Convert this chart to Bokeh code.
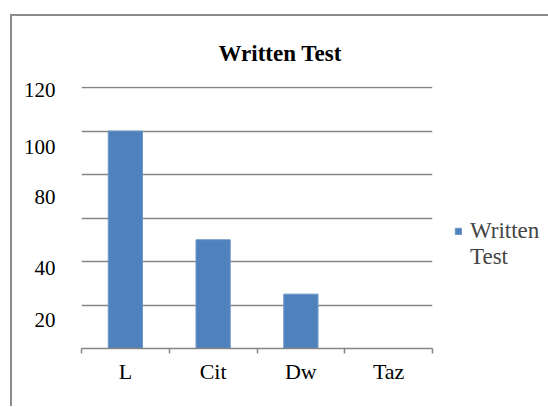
from bokeh.plotting import figure
from bokeh.models import FixedTicker, Range1d, Legend, LegendItem, ColumnDataSource
from bokeh.embed import file_html
from bokeh.resources import INLINE

# ---- data ----
categories = ["L", "Cit", "Dw", "Taz"]
values = [100, 50, 25, 0]
series_name = "Written Test"
title_text = "Written Test"
grid_values = [20, 40, 60, 80, 100, 120]
ytick_labels = ["120", "100", "80", "40", "20"]
ytick_positions = [118.8, 92.6, 69.6, 37.2, 13.1]

FONT = "Liberation Serif"
BLUE = "#4F81BD"
GRAY = "#868686"

xs = [i + 0.5 for i in range(len(categories))]
source = ColumnDataSource(dict(x=xs, top=values, cat=categories))

p = figure(
    output_backend="svg", toolbar_location=None,
    frame_width=351, frame_height=262,
    min_border_left=69, min_border_right=112,
    min_border_top=70, min_border_bottom=58,
    x_range=Range1d(0, len(categories)), y_range=Range1d(0, 120.5),
)
p.margin = (14, 0, 0, 10)
p.styles = {"border-left": "2px solid #8c8c8c", "border-top": "2px solid #8c8c8c"}

bars = p.vbar(x="x", top="top", width=0.39, source=source,
              fill_color=BLUE, line_color="#6B95C8", line_width=1)
blank = p.vbar(x=[], top=[], width=0.39, fill_alpha=0, line_alpha=0)

# title
p.title.text = title_text
p.title.text_font = FONT
p.title.text_font_size = "23px"
p.title.text_font_style = "bold"
p.title.text_color = "black"
p.title.align = "left"
p.title.offset = 137
p.title.standoff = 41

p.outline_line_color = None
p.background_fill_color = "white"
p.border_fill_color = "white"

# x axis
xa = p.xaxis[0]
xa.ticker = FixedTicker(ticks=xs, minor_ticks=list(range(len(categories) + 1)))
xa.major_label_overrides = {x: c for x, c in zip(xs, categories)}
xa.major_tick_line_color = None
xa.major_tick_out = 0
xa.minor_tick_out = 5
xa.minor_tick_in = 0
xa.minor_tick_line_color = GRAY
xa.minor_tick_line_width = 1.5
xa.axis_line_color = GRAY
xa.axis_line_width = 1.5
xa.major_label_text_font = FONT
xa.major_label_text_font_size = "22px"
xa.major_label_text_color = "black"
xa.major_label_standoff = 5

# y axis
ya = p.yaxis[0]
ya.ticker = FixedTicker(ticks=ytick_positions, minor_ticks=[])
ya.major_label_overrides = {v: t for v, t in zip(ytick_positions, ytick_labels)}
ya.axis_line_color = None
ya.major_tick_line_color = None
ya.minor_tick_line_color = None
ya.major_tick_out = 0
ya.major_label_standoff = 26
ya.major_label_text_font = FONT
ya.major_label_text_font_size = "21px"
ya.major_label_text_color = "black"

p.xgrid.visible = False
p.ygrid.ticker = FixedTicker(ticks=grid_values)
p.ygrid.grid_line_color = GRAY
p.ygrid.grid_line_width = 1.5

# legend
words = series_name.split(" ")
legend = Legend(items=[LegendItem(label=words[0], renderers=[bars]),
                       LegendItem(label=words[1], renderers=[blank])],
                location=(22, 78), padding=0, margin=0, spacing=0,
                glyph_width=8, glyph_height=8, label_height=22, label_standoff=8,
                label_text_font=FONT, label_text_font_size="23px",
                label_text_line_height=1.0,
                border_line_alpha=0, background_fill_alpha=0)
p.add_layout(legend, "right")

open("out.html", "w").write(file_html(p, INLINE))
